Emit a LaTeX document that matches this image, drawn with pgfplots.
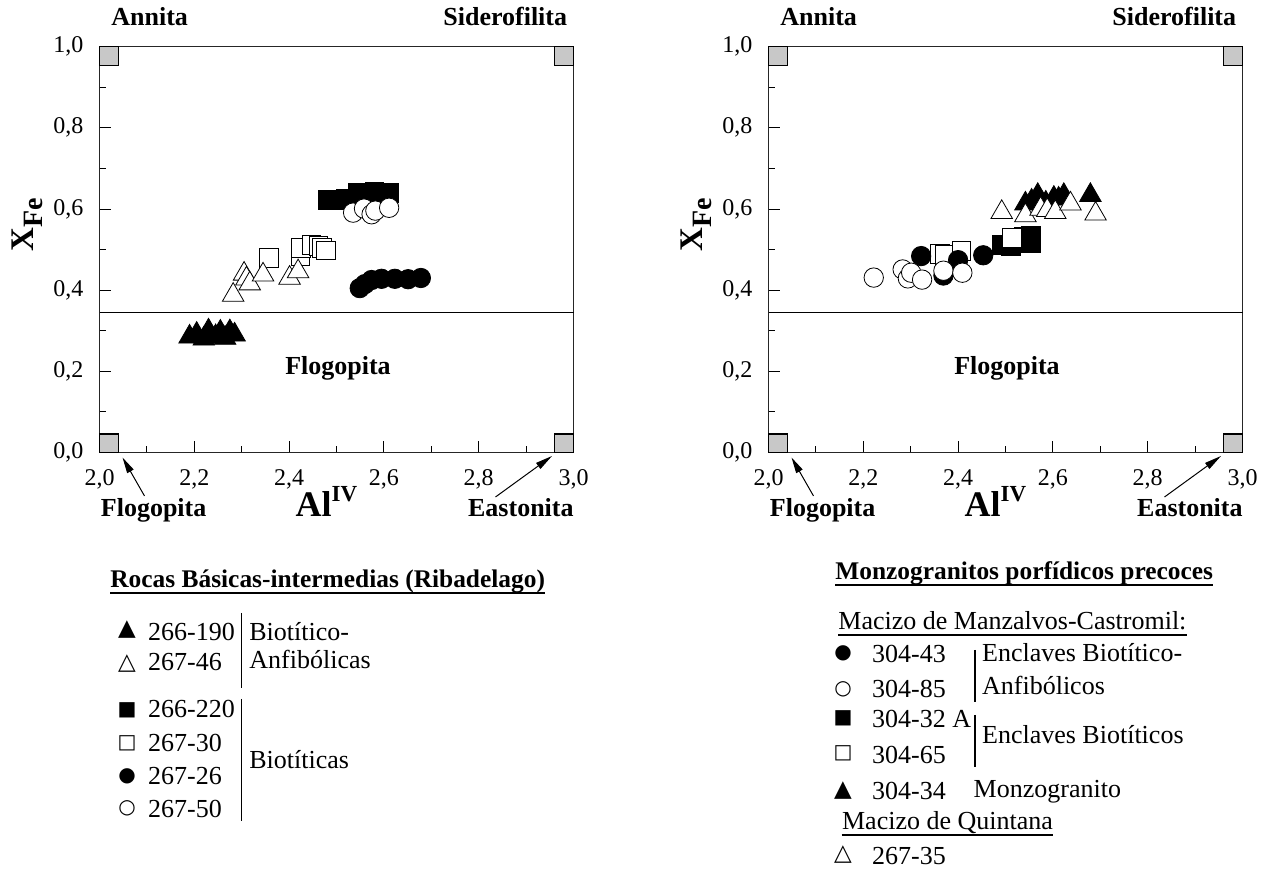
\documentclass[border=0pt]{standalone}
\usepackage{pgfplots}
\pgfplotsset{compat=1.18}
\usetikzlibrary{arrows.meta}
\usepackage{fontspec}
\setmainfont{Liberation Serif}
\newfontfamily\symfont{DejaVu Sans}

\definecolor{cornergray}{RGB}{200,200,200}

\newcommand\lbl{\fontsize{13}{15}\selectfont\bfseries}
\newcommand\leg{\fontsize{13}{15}\selectfont}
\newcommand\ttl{\fontsize{12.7}{15}\selectfont\bfseries}
\newcommand\symA{\fontsize{11.5}{12}\selectfont\symfont}
\newcommand\symB{\fontsize{10}{12}\selectfont\symfont}

\pgfkeys{/pgf/number format/.cd, fixed, fixed zerofill, precision=1, use comma, assume math mode=true}

\pgfplotsset{
  micaplot/.style={
    scale only axis, width=237pt, height=202.9pt,
    xmin=2, xmax=3, ymin=0, ymax=1,
    xtick={2,2.2,2.4,2.6,2.8,3}, minor xtick={2.1,2.3,2.5,2.7,2.9},
    ytick={0,0.2,0.4,0.6,0.8,1}, minor ytick={0.1,0.3,0.5,0.7,0.9},
    tick pos=left, tick align=inside,
    major tick length=5.5pt, minor tick length=3pt,
    every tick/.style={black, line width=0.5pt},
    axis line style={line width=0.75pt, black!85},
    tick label style={font=\fontsize{12}{13}\selectfont},
    xticklabel style={yshift=-5pt},
    yticklabel style={xshift=-4.5pt},
    clip=false,
    every axis plot/.append style={only marks, mark options={line width=0.6pt, draw=black}},
  },
  ftri/.style={mark=triangle*, mark size=6.2pt, mark options={fill=black}},
  otri/.style={mark=triangle*, mark size=6.2pt, mark options={fill=white}},
  fsq/.style={mark=square*, mark size=4.7pt, mark options={fill=black}},
  osq/.style={mark=square*, mark size=4.7pt, mark options={fill=white}},
  fcir/.style={mark=*, mark size=4.85pt, mark options={fill=black}},
  ocir/.style={mark=*, mark size=4.85pt, mark options={fill=white}},
}

% end-member corners and the annite-phlogopite divide
\newcommand\micaframe{%
  \draw[fill=cornergray, line width=0.6pt] (axis cs:2,1) rectangle (axis cs:2.0395,0.9545);
  \draw[fill=cornergray, line width=0.6pt] (axis cs:3,1) rectangle (axis cs:2.9605,0.9545);
  \draw[fill=cornergray, line width=0.6pt] (axis cs:2,0) rectangle (axis cs:2.0395,0.0455);
  \draw[fill=cornergray, line width=0.6pt] (axis cs:3,0) rectangle (axis cs:2.9605,0.0455);
  \draw[line width=0.6pt] (axis cs:2,0.345) -- (axis cs:3,0.345);
}

\begin{document}
\begin{tikzpicture}
\path[use as bounding box] (0,0) rectangle (631pt,435pt);

% Rocas basicas-intermedias (Ribadelago)
\begin{axis}[micaplot, at={(49.75pt,208.75pt)}, anchor=south west]
\micaframe
% 266-220
\addplot[fsq] table {
2.482 0.622
2.500 0.622
2.520 0.625
2.545 0.640
2.560 0.638
2.580 0.642
2.595 0.640
2.610 0.640
};
% 267-50
\addplot[ocir] table {
2.535 0.591
2.558 0.601
2.574 0.587
2.582 0.596
2.611 0.603
};
% 267-30
\addplot[osq] table {
2.358 0.480
2.424 0.484
2.425 0.505
2.447 0.512
2.462 0.510
2.470 0.505
2.478 0.498
};
% 267-46
\addplot[otri] table {
2.282 0.388
2.305 0.440
2.310 0.428
2.317 0.416
2.345 0.438
2.401 0.430
2.419 0.446
};
% 266-190
\addplot[ftri] table {
2.190 0.285
2.205 0.292
2.220 0.280
2.230 0.300
2.245 0.286
2.255 0.297
2.265 0.282
2.275 0.298
2.285 0.290
};
% 267-26
\addplot[fcir] table {
2.549 0.405
2.560 0.415
2.574 0.425
2.595 0.428
2.623 0.428
2.651 0.427
2.678 0.430
};
\end{axis}

% Monzogranitos porfidicos precoces
\begin{axis}[micaplot, at={(384.25pt,208.75pt)}, anchor=south west]
\micaframe
% 304-32 A
\addplot[fsq] table {
2.492 0.511
2.511 0.509
2.525 0.520
2.539 0.531
2.554 0.516
2.554 0.533
};
% 304-65
\addplot[osq] table {
2.361 0.490
2.372 0.487
2.407 0.497
2.514 0.528
};
% 304-43
\addplot[fcir] table {
2.322 0.484
2.369 0.436
2.400 0.474
2.453 0.486
};
% 304-85
\addplot[ocir] table {
2.222 0.431
2.283 0.451
2.294 0.429
2.301 0.443
2.324 0.426
2.369 0.448
2.409 0.443
};
% 304-34
\addplot[ftri] table {
2.542 0.613
2.555 0.620
2.568 0.634
2.585 0.615
2.602 0.627
2.612 0.625
2.623 0.634
2.679 0.634
};
% 267-35
\addplot[otri] table {
2.492 0.592
2.542 0.584
2.574 0.600
2.588 0.597
2.605 0.592
2.637 0.613
2.690 0.588
};
\end{axis}

% labels, arrows and legends (units: 0.5pt, measured from the top left)
\begin{scope}[shift={(0pt,435pt)}, x=0.5pt, y=-0.5pt]
\foreach \L in {99.5,768.5}{
  \node[anchor=base west, inner sep=0, font=\lbl] at (\L+11.5,26) {Annita};
  \node[anchor=base east, inner sep=0, font=\lbl] at (\L+468,26) {Siderofilita};
  \node[anchor=base west, inner sep=0, font=\lbl] at (\L+1,517) {Flogopita};
  \node[anchor=base east, inner sep=0, font=\lbl] at (\L+474.5,517) {Eastonita};
  \node[anchor=base, inner sep=0, font=\lbl] at (\L+238.5,375) {Flogopita};
  \node[anchor=base, inner sep=0] at (\L+227,517)
    {\fontsize{18}{20}\selectfont\bfseries Al\raisebox{7.5pt}{\fontsize{11.5}{12}\selectfont\bfseries IV}};
  \node[rotate=90, inner sep=0] at (\L-72.5,225)
    {\fontsize{16.5}{18}\selectfont\bfseries X\raisebox{-4.5pt}{\fontsize{14}{16}\selectfont\bfseries Fe}};
  \draw[line width=0.5pt, -{Triangle[length=8pt,width=3.6pt]}] (\L+45,496) -- (\L+23,457.5);
  \draw[line width=0.5pt, -{Triangle[length=8.5pt,width=3.6pt]}] (\L+396,497) -- (\L+452.5,456);
}

% left legend
\node[anchor=base west, inner sep=0, font=\ttl] (tl) at (110,588) {Rocas Básicas-intermedias (Ribadelago)};
\draw[line width=1pt] ([yshift=-2.5pt]tl.base west) -- ([yshift=-2.5pt]tl.base east);
\node[font=\symA] at (127,630) {▲};
\node[font=\symA] at (127,664) {△};
\node[font=\symB] at (127,710) {■};
\node[font=\symB] at (127,743) {□};
\node[font=\symB] at (127,776) {●};
\node[font=\symB] at (127,808) {○};
\node[anchor=base west, inner sep=0, font=\leg] at (147.7,641) {266-190};
\node[anchor=base west, inner sep=0, font=\leg] at (147.7,671) {267-46};
\node[anchor=base west, inner sep=0, font=\leg] at (147.7,718) {266-220};
\node[anchor=base west, inner sep=0, font=\leg] at (147.7,752) {267-30};
\node[anchor=base west, inner sep=0, font=\leg] at (147.7,785) {267-26};
\node[anchor=base west, inner sep=0, font=\leg] at (147.7,818) {267-50};
\draw[line width=0.6pt] (241.7,613) -- (241.7,688);
\draw[line width=0.6pt] (241.7,699) -- (241.7,821);
\node[anchor=base west, inner sep=0, font=\leg] at (249,641) {Biotítico-};
\node[anchor=base west, inner sep=0, font=\leg] at (249,669) {Anfibólicas};
\node[anchor=base west, inner sep=0, font=\leg] at (249,769) {Biotíticas};

% right legend
\node[anchor=base west, inner sep=0, font=\ttl] (tr) at (835,580) {Monzogranitos porfídicos precoces};
\draw[line width=1pt] ([yshift=-2.5pt]tr.base west) -- ([yshift=-2.5pt]tr.base east);
\node[anchor=base west, inner sep=0, font=\leg] (m1) at (838,630) {Macizo de Manzalvos-Castromil:};
\draw[line width=0.6pt] ([yshift=-2.5pt]m1.base west) -- ([yshift=-2.5pt]m1.base east);
\node[font=\symB] at (843,653) {●};
\node[font=\symB] at (843,689) {○};
\node[font=\symB] at (843,718) {■};
\node[font=\symB] at (843,753) {□};
\node[font=\symA] at (843,791) {▲};
\node[font=\symA] at (843,855) {△};
\node[anchor=base west, inner sep=0, font=\leg] at (871.7,663) {304-43};
\node[anchor=base west, inner sep=0, font=\leg] at (871.7,698) {304-85};
\node[anchor=base west, inner sep=0, font=\leg] at (871.7,728) {304-32 A};
\node[anchor=base west, inner sep=0, font=\leg] at (871.7,764) {304-65};
\node[anchor=base west, inner sep=0, font=\leg] at (871.7,800) {304-34};
\node[anchor=base west, inner sep=0, font=\leg] at (973.3,798) {Monzogranito};
\node[anchor=base west, inner sep=0, font=\leg] (m2) at (841.7,830) {Macizo de Quintana};
\draw[line width=0.6pt] ([yshift=-2.5pt]m2.base west) -- ([yshift=-2.5pt]m2.base east);
\node[anchor=base west, inner sep=0, font=\leg] at (871.7,865) {267-35};
\draw[line width=0.6pt] (975,650) -- (975,702);
\draw[line width=0.6pt] (975,715) -- (975,767);
\node[anchor=base west, inner sep=0, font=\leg] at (981.7,661.7) {Enclaves Biotítico-};
\node[anchor=base west, inner sep=0, font=\leg] at (981.7,695) {Anfibólicos};
\node[anchor=base west, inner sep=0, font=\leg] at (981.7,743.3) {Enclaves Biotíticos};
\end{scope}
\end{tikzpicture}
\end{document}
